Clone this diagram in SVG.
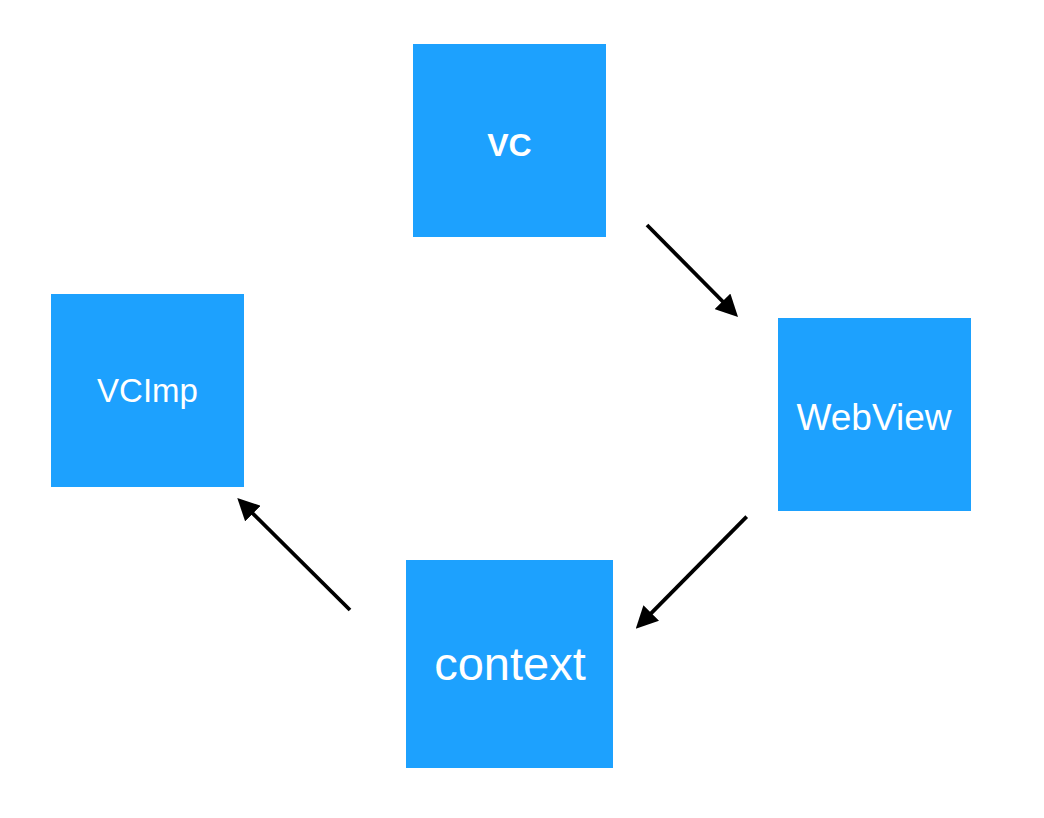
<svg xmlns="http://www.w3.org/2000/svg" width="1044" height="818" viewBox="0 0 1044 818">
<defs>
<style>
.box{fill:#1DA1FE}
.lbl{fill:#fff;font-family:"Liberation Sans",Arial,sans-serif;text-anchor:middle}
.edge{stroke:#000;stroke-width:3.8;fill:none}
</style>
<marker id="ah" markerUnits="userSpaceOnUse" markerWidth="22" markerHeight="22" viewBox="0 0 20 20" refX="6" refY="10" orient="auto">
<path d="M0,0 L20,10 L0,20 z" fill="#000"/>
</marker>
</defs>
<rect width="1044" height="818" fill="#fff"/>
<g id="node-vc"><rect class="box" x="413" y="44" width="193" height="193"/><text class="lbl" x="509.5" y="156" font-size="32" font-weight="bold">VC</text></g>
<g id="node-webview"><rect class="box" x="778" y="318" width="193" height="193"/><text class="lbl" x="874" y="430" font-size="37">WebView</text></g>
<g id="node-vcimp"><rect class="box" x="51" y="294" width="193" height="193"/><text class="lbl" x="147.5" y="402" font-size="33">VCImp</text></g>
<g id="node-context"><rect class="box" x="406" y="560" width="207" height="208"/><text class="lbl" x="510" y="680" font-size="47">context</text></g>
<g id="connectors">
<line class="edge" x1="647" y1="225" x2="727.2" y2="306" marker-end="url(#ah)"/>
<line class="edge" x1="746.7" y1="516.7" x2="646.6" y2="617.8" marker-end="url(#ah)"/>
<line class="edge" x1="350" y1="610" x2="248.2" y2="508.9" marker-end="url(#ah)"/>
</g>
</svg>
